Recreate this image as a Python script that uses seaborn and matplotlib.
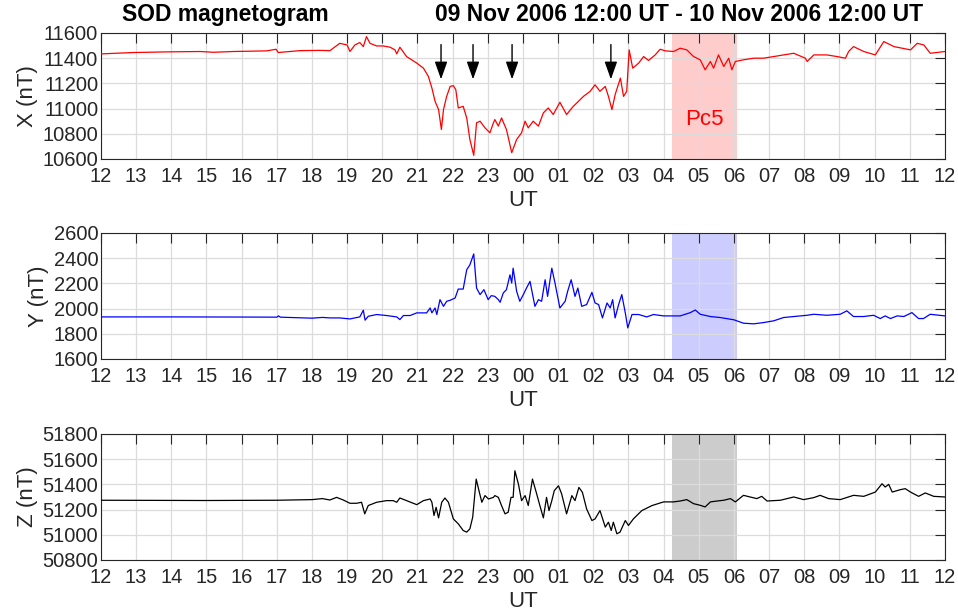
import numpy as np
import pandas as pd
import matplotlib
matplotlib.use("Agg")
import matplotlib.pyplot as plt
import seaborn as sns

# time axis: hours after 09 Nov 2006 12:00 UT
x_time = [0.0, 0.92, 1.87, 2.82, 3.2, 3.76, 4.71, 4.98, 5.04, 5.66, 6.2, 6.51, 6.79, 7.0, 7.08,
          7.22, 7.36, 7.46, 7.55, 7.65, 7.84, 8.03, 8.22, 8.36, 8.41, 8.5, 8.69, 8.98, 9.17, 9.31,
          9.41, 9.5, 9.6, 9.68, 9.74, 9.83, 9.93, 10.02, 10.09, 10.16, 10.3, 10.4, 10.49, 10.6,
          10.68, 10.78, 10.92, 11.06, 11.16, 11.2, 11.3, 11.39, 11.53, 11.68, 11.82, 11.96, 12.06,
          12.15, 12.29, 12.44, 12.58, 12.72, 12.86, 13.05, 13.24, 13.43, 13.58, 13.72, 13.91, 14.05,
          14.19, 14.34, 14.43, 14.53, 14.62, 14.77, 14.86, 14.95, 15.02, 15.12, 15.29, 15.43, 15.57,
          15.76, 15.9, 16.05, 16.28, 16.47, 16.66, 16.85, 17.04, 17.18, 17.33, 17.42, 17.56, 17.71,
          17.85, 17.94, 18.04, 18.27, 18.56, 18.84, 19.13, 19.41, 19.7, 20.03, 20.08, 20.27, 20.64,
          20.93, 21.17, 21.26, 21.4, 21.69, 22.02, 22.26, 22.55, 23.02, 23.21, 23.4, 23.58, 24.0]
x_val = [11434, 11445, 11450, 11453, 11447, 11453, 11458, 11471, 11445, 11460, 11462, 11460, 11518,
         11505, 11453, 11505, 11524, 11492, 11571, 11518, 11497, 11497, 11487, 11466, 11434, 11487,
         11413, 11361, 11321, 11255, 11163, 11058, 10992, 10834, 10992, 11097, 11176, 11182, 11150,
         11005, 11018, 10926, 10755, 10629, 10887, 10900, 10847, 10808, 10887, 10913, 10861, 10926,
         10834, 10650, 10755, 10808, 10900, 10847, 10900, 10861, 10966, 11005, 10953, 11050, 10953,
         11018, 11058, 11097, 11137, 11189, 11137, 11176, 11097, 10992, 11110, 11242, 11097, 11137,
         11466, 11321, 11361, 11413, 11382, 11426, 11471, 11458, 11453, 11479, 11466, 11413, 11387,
         11308, 11374, 11321, 11426, 11334, 11400, 11308, 11374, 11387, 11400, 11400, 11413, 11426,
         11439, 11400, 11374, 11426, 11426, 11413, 11400, 11453, 11492, 11453, 11426, 11532, 11492,
         11466, 11518, 11505, 11439, 11453]

y_time = [0.0, 2.0, 4.0, 5.0, 5.05, 5.1, 6.0, 6.3, 6.51, 6.79, 7.08, 7.36, 7.46, 7.51, 7.6, 7.84,
          8.12, 8.41, 8.5, 8.6, 8.79, 8.98, 9.26, 9.36, 9.41, 9.5, 9.55, 9.64, 9.74, 9.83, 9.93,
          10.07, 10.16, 10.3, 10.4, 10.49, 10.6, 10.68, 10.78, 10.89, 11.01, 11.1, 11.2, 11.3, 11.35,
          11.44, 11.53, 11.63, 11.68, 11.72, 11.82, 11.91, 12.01, 12.1, 12.2, 12.34, 12.44, 12.53,
          12.63, 12.7, 12.82, 12.91, 13.05, 13.2, 13.27, 13.37, 13.48, 13.56, 13.67, 13.81, 13.96,
          14.05, 14.15, 14.26, 14.39, 14.48, 14.55, 14.62, 14.72, 14.81, 14.91, 14.98, 15.1, 15.29,
          15.52, 15.71, 16.0, 16.47, 16.76, 16.9, 17.04, 17.33, 17.61, 18.0, 18.27, 18.56, 18.84,
          19.13, 19.41, 19.7, 20.08, 20.27, 20.64, 21.02, 21.21, 21.4, 21.69, 21.97, 22.16, 22.3,
          22.45, 22.64, 22.83, 23.06, 23.25, 23.39, 23.58, 24.0]
y_val = [1934, 1934, 1933, 1932, 1942, 1932, 1924, 1930, 1926, 1926, 1918, 1934, 1987, 1908, 1939,
         1953, 1945, 1934, 1913, 1945, 1945, 1966, 1966, 2005, 1966, 2005, 1953, 2071, 2018, 2058,
         2066, 2084, 2155, 2155, 2308, 2347, 2434, 2163, 2111, 2150, 2071, 2103, 2097, 2071, 2050,
         2124, 2150, 2268, 2203, 2321, 2137, 2058, 2111, 2163, 2216, 2018, 2071, 2058, 2229, 2097,
         2321, 2203, 2005, 2058, 2137, 2229, 2097, 2163, 2018, 2032, 2129, 2045, 2032, 1926, 2045,
         2005, 2071, 1926, 2032, 2111, 1966, 1847, 1953, 1953, 1934, 1953, 1942, 1942, 1968, 1989,
         1955, 1937, 1929, 1911, 1884, 1879, 1889, 1903, 1929, 1937, 1947, 1955, 1947, 1955, 1982,
         1937, 1937, 1947, 1921, 1942, 1921, 1942, 1937, 1968, 1921, 1921, 1955, 1942]

z_time = [0.0, 3.0, 5.0, 6.0, 6.3, 6.51, 6.7, 6.89, 7.08, 7.27, 7.41, 7.5, 7.6, 7.84, 8.12, 8.31,
          8.41, 8.5, 8.69, 8.98, 9.17, 9.36, 9.41, 9.47, 9.53, 9.6, 9.69, 9.78, 9.88, 10.02, 10.16,
          10.3, 10.4, 10.49, 10.57, 10.67, 10.76, 10.83, 10.92, 11.02, 11.16, 11.2, 11.3, 11.39,
          11.49, 11.58, 11.66, 11.72, 11.77, 11.87, 11.96, 12.06, 12.15, 12.27, 12.39, 12.48, 12.58,
          12.67, 12.74, 12.82, 12.89, 13.01, 13.1, 13.24, 13.39, 13.48, 13.59, 13.69, 13.81, 13.96,
          14.05, 14.19, 14.34, 14.43, 14.51, 14.57, 14.67, 14.76, 14.91, 15.0, 15.14, 15.38, 15.67,
          16.0, 16.28, 16.47, 16.66, 16.85, 17.04, 17.18, 17.33, 17.52, 17.71, 17.9, 18.04, 18.27,
          18.46, 18.65, 18.79, 18.94, 19.32, 19.7, 19.98, 20.27, 20.45, 20.69, 21.02, 21.4, 21.69,
          22.02, 22.21, 22.3, 22.4, 22.5, 22.73, 22.87, 23.02, 23.25, 23.44, 23.68, 24.0]
z_val = [51274, 51272, 51274, 51279, 51287, 51276, 51297, 51276, 51250, 51250, 51258, 51166, 51232,
         51258, 51271, 51271, 51258, 51292, 51271, 51239, 51271, 51284, 51258, 51153, 51218, 51134,
         51258, 51292, 51258, 51126, 51087, 51034, 51021, 51047, 51139, 51442, 51337, 51258, 51311,
         51284, 51297, 51311, 51297, 51232, 51166, 51179, 51297, 51297, 51508, 51403, 51271, 51311,
         51232, 51442, 51324, 51232, 51134, 51297, 51192, 51271, 51350, 51389, 51324, 51166, 51311,
         51271, 51376, 51337, 51205, 51113, 51126, 51192, 51061, 51100, 51034, 51100, 51008, 51021,
         51113, 51074, 51126, 51192, 51232, 51261, 51261, 51268, 51279, 51247, 51234, 51221, 51261,
         51268, 51274, 51287, 51261, 51313, 51300, 51287, 51305, 51268, 51274, 51300, 51279, 51295,
         51313, 51287, 51279, 51313, 51305, 51339, 51405, 51379, 51400, 51339, 51358, 51366, 51339,
         51305, 51332, 51305, 51300]

hour_ticks = list(range(0, 25))
hour_labels = ["%02d" % ((12 + h) % 24) for h in hour_ticks]
arrow_times = [9.67, 10.58, 11.69, 14.5]
pc5_start, pc5_end = 16.25, 18.08

panels = [
    ("X (nT)", x_time, x_val, "#ff0000", (10600, 11600), [10600, 10800, 11000, 11200, 11400, 11600]),
    ("Y (nT)", y_time, y_val, "#0000ff", (1600, 2600), [1600, 1800, 2000, 2200, 2400, 2600]),
    ("Z (nT)", z_time, z_val, "#000000", (50800, 51800), [50800, 51000, 51200, 51400, 51600, 51800]),
]

sns.set_theme(style="white")
plt.rcParams["font.family"] = ["Liberation Sans", "DejaVu Sans"]

fig = plt.figure(figsize=(9.58, 6.12), dpi=100)
bottoms = [0.7402, 0.4134, 0.0850]
txt = "#262626"

for (label, t, v, col, ylim, yticks), b in zip(panels, bottoms):
    ax = fig.add_axes([0.1054, b, 0.881, 0.2059])
    ax.axvspan(pc5_start, pc5_end, color=col, alpha=0.2, lw=0, zorder=0)
    df = pd.DataFrame({"t": t, "v": v})
    sns.lineplot(data=df, x="t", y="v", ax=ax, color=col, lw=0.9, zorder=3)
    ax.set_xlim(0, 24)
    ax.set_ylim(*ylim)
    ax.set_xticks(hour_ticks)
    ax.set_xticklabels(hour_labels)
    ax.set_yticks(yticks)
    ax.grid(True, color="#dcdcdc", lw=0.9)
    ax.tick_params(axis="both", direction="in", length=7, width=0.8, labelsize=14.5,
                   colors=txt, top=True, right=True, pad=2)
    ax.tick_params(axis="x", pad=6)
    for s in ax.spines.values():
        s.set_color(txt)
        s.set_linewidth(0.8)
    ax.set_xlabel("UT", fontsize=16, color=txt, labelpad=3)
    ax.set_ylabel(label, fontsize=16, color=txt, labelpad=3)

    if label.startswith("X"):
        for a in arrow_times:
            ax.annotate("", xy=(a, 11210), xytext=(a, 11530),
                        arrowprops=dict(arrowstyle="-|>,head_width=0.32,head_length=0.9",
                                        color="black", lw=1.0), zorder=5)
        ax.text((pc5_start + pc5_end) / 2, 10910, "Pc5", color="#ff0000", fontsize=16,
                ha="center", va="center")

fig.text(0.127, 0.976, "SOD magnetogram", fontsize=16.5, fontweight="bold",
         ha="left", va="center", color="black")
fig.text(0.9635, 0.976, "09 Nov 2006 12:00 UT - 10 Nov 2006 12:00 UT", fontsize=16.5,
         fontweight="bold", ha="right", va="center", color="black")

fig.savefig("out.png", dpi=100)
